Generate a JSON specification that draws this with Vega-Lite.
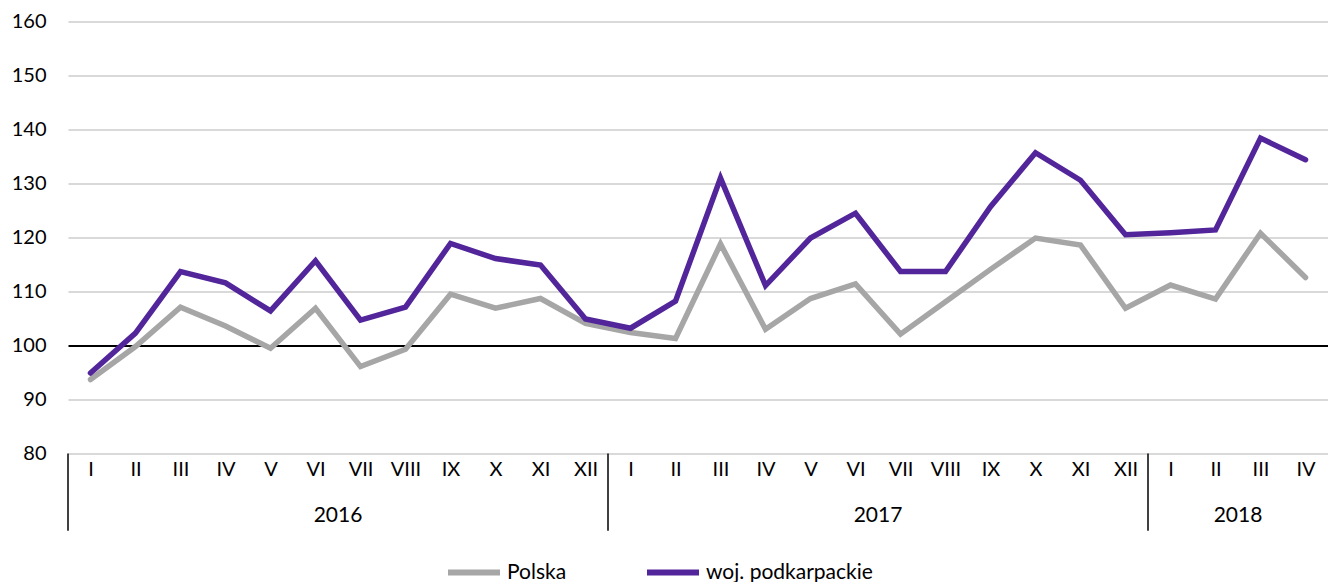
{
  "$schema": "https://vega.github.io/schema/vega-lite/v6.json",
  "width": 1260,
  "height": 432,
  "autosize": {"type": "none"},
  "padding": {"left": 68, "top": 21.5, "right": 0, "bottom": 128.5},
  "background": "white",
  "config": {
    "view": {"stroke": null},
    "font": "Lato",
    "text": {"font": "Lato"}
  },
  "data": {
    "values": [
      {"i": 0, "year": "2016", "m": "I", "series": "Polska", "value": 93.7},
      {"i": 1, "year": "2016", "m": "II", "series": "Polska", "value": 99.8},
      {"i": 2, "year": "2016", "m": "III", "series": "Polska", "value": 107.1},
      {"i": 3, "year": "2016", "m": "IV", "series": "Polska", "value": 103.6},
      {"i": 4, "year": "2016", "m": "V", "series": "Polska", "value": 99.5},
      {"i": 5, "year": "2016", "m": "VI", "series": "Polska", "value": 106.9},
      {"i": 6, "year": "2016", "m": "VII", "series": "Polska", "value": 96.1},
      {"i": 7, "year": "2016", "m": "VIII", "series": "Polska", "value": 99.3},
      {"i": 8, "year": "2016", "m": "IX", "series": "Polska", "value": 109.5},
      {"i": 9, "year": "2016", "m": "X", "series": "Polska", "value": 106.9},
      {"i": 10, "year": "2016", "m": "XI", "series": "Polska", "value": 108.7},
      {"i": 11, "year": "2016", "m": "XII", "series": "Polska", "value": 104.1},
      {"i": 12, "year": "2017", "m": "I", "series": "Polska", "value": 102.4},
      {"i": 13, "year": "2017", "m": "II", "series": "Polska", "value": 101.3},
      {"i": 14, "year": "2017", "m": "III", "series": "Polska", "value": 118.8},
      {"i": 15, "year": "2017", "m": "IV", "series": "Polska", "value": 103.0},
      {"i": 16, "year": "2017", "m": "V", "series": "Polska", "value": 108.7},
      {"i": 17, "year": "2017", "m": "VI", "series": "Polska", "value": 111.4},
      {"i": 18, "year": "2017", "m": "VII", "series": "Polska", "value": 102.1},
      {"i": 19, "year": "2017", "m": "VIII", "series": "Polska", "value": 108.1},
      {"i": 20, "year": "2017", "m": "IX", "series": "Polska", "value": 114.1},
      {"i": 21, "year": "2017", "m": "X", "series": "Polska", "value": 119.9},
      {"i": 22, "year": "2017", "m": "XI", "series": "Polska", "value": 118.6},
      {"i": 23, "year": "2017", "m": "XII", "series": "Polska", "value": 106.9},
      {"i": 24, "year": "2018", "m": "I", "series": "Polska", "value": 111.2},
      {"i": 25, "year": "2018", "m": "II", "series": "Polska", "value": 108.6},
      {"i": 26, "year": "2018", "m": "III", "series": "Polska", "value": 120.8},
      {"i": 27, "year": "2018", "m": "IV", "series": "Polska", "value": 112.6},
      {"i": 0, "year": "2016", "m": "I", "series": "woj. podkarpackie", "value": 94.9},
      {"i": 1, "year": "2016", "m": "II", "series": "woj. podkarpackie", "value": 102.3},
      {"i": 2, "year": "2016", "m": "III", "series": "woj. podkarpackie", "value": 113.7},
      {"i": 3, "year": "2016", "m": "IV", "series": "woj. podkarpackie", "value": 111.6},
      {"i": 4, "year": "2016", "m": "V", "series": "woj. podkarpackie", "value": 106.4},
      {"i": 5, "year": "2016", "m": "VI", "series": "woj. podkarpackie", "value": 115.7},
      {"i": 6, "year": "2016", "m": "VII", "series": "woj. podkarpackie", "value": 104.7},
      {"i": 7, "year": "2016", "m": "VIII", "series": "woj. podkarpackie", "value": 107.1},
      {"i": 8, "year": "2016", "m": "IX", "series": "woj. podkarpackie", "value": 118.9},
      {"i": 9, "year": "2016", "m": "X", "series": "woj. podkarpackie", "value": 116.1},
      {"i": 10, "year": "2016", "m": "XI", "series": "woj. podkarpackie", "value": 114.9},
      {"i": 11, "year": "2016", "m": "XII", "series": "woj. podkarpackie", "value": 104.9},
      {"i": 12, "year": "2017", "m": "I", "series": "woj. podkarpackie", "value": 103.2},
      {"i": 13, "year": "2017", "m": "II", "series": "woj. podkarpackie", "value": 108.2},
      {"i": 14, "year": "2017", "m": "III", "series": "woj. podkarpackie", "value": 131.0},
      {"i": 15, "year": "2017", "m": "IV", "series": "woj. podkarpackie", "value": 111.1},
      {"i": 16, "year": "2017", "m": "V", "series": "woj. podkarpackie", "value": 119.9},
      {"i": 17, "year": "2017", "m": "VI", "series": "woj. podkarpackie", "value": 124.5},
      {"i": 18, "year": "2017", "m": "VII", "series": "woj. podkarpackie", "value": 113.7},
      {"i": 19, "year": "2017", "m": "VIII", "series": "woj. podkarpackie", "value": 113.7},
      {"i": 20, "year": "2017", "m": "IX", "series": "woj. podkarpackie", "value": 125.7},
      {"i": 21, "year": "2017", "m": "X", "series": "woj. podkarpackie", "value": 135.7},
      {"i": 22, "year": "2017", "m": "XI", "series": "woj. podkarpackie", "value": 130.6},
      {"i": 23, "year": "2017", "m": "XII", "series": "woj. podkarpackie", "value": 120.5},
      {"i": 24, "year": "2018", "m": "I", "series": "woj. podkarpackie", "value": 120.9},
      {"i": 25, "year": "2018", "m": "II", "series": "woj. podkarpackie", "value": 121.4},
      {"i": 26, "year": "2018", "m": "III", "series": "woj. podkarpackie", "value": 138.4},
      {"i": 27, "year": "2018", "m": "IV", "series": "woj. podkarpackie", "value": 134.4}
    ]
  },
  "layer": [
    {
      "mark": {"type": "line", "strokeWidth": 5.5, "strokeCap": "round", "clip": false},
      "encoding": {
        "x": {
          "field": "i",
          "type": "quantitative",
          "scale": {"domain": [-0.5, 27.5], "nice": false, "zero": false},
          "axis": {
            "values": [0,1,2,3,4,5,6,7,8,9,10,11,12,13,14,15,16,17,18,19,20,21,22,23,24,25,26,27],
            "labelExpr": "['I','II','III','IV','V','VI','VII','VIII','IX','X','XI','XII'][datum.value % 12]",
            "domain": false,
            "ticks": false,
            "grid": false,
            "title": null,
            "labelFont": "Lato",
            "labelFontSize": 20,
            "labelColor": "#000000",
            "labelPadding": 6,
            "labelFlush": false,
            "labelOverlap": false
          }
        },
        "y": {
          "field": "value",
          "type": "quantitative",
          "scale": {"domain": [80, 160], "nice": false, "zero": false},
          "axis": {
            "values": [80, 90, 100, 110, 120, 130, 140, 150, 160],
            "domain": false,
            "ticks": false,
            "title": null,
            "labelFont": "Lato",
            "labelFontSize": 20,
            "labelColor": "#000000",
            "labelPadding": 22,
            "gridColor": {"condition": {"test": "datum.value === 100", "value": "#000000"}, "value": "#d9d9d9"},
            "gridWidth": 2
          }
        },
        "color": {
          "field": "series",
          "type": "nominal",
          "scale": {"domain": ["Polska", "woj. podkarpackie"], "range": ["#a6a6a6", "#52259a"]},
          "legend": {
            "orient": "none",
            "legendX": 377,
            "legendY": 522,
            "direction": "horizontal",
            "title": null,
            "symbolType": "stroke",
            "symbolSize": 2704,
            "symbolStrokeWidth": 6,
            "labelFont": "Lato",
            "labelFontSize": 21,
            "labelColor": "#000000",
            "labelOffset": 4,
            "labelLimit": 400,
            "columnPadding": 68
          }
        }
      }
    },
    {
      "transform": [
        {"aggregate": [{"op": "min", "field": "i", "as": "first"}], "groupby": ["year"]},
        {"calculate": "datum.first - 0.5", "as": "edge"}
      ],
      "mark": {"type": "rule", "color": "#000000", "strokeWidth": 1.5, "clip": false},
      "encoding": {
        "x": {"field": "edge", "type": "quantitative"},
        "y": {"datum": 80},
        "y2": {"datum": 65.7}
      }
    },
    {
      "transform": [
        {"aggregate": [{"op": "mean", "field": "i", "as": "mid"}], "groupby": ["year"]}
      ],
      "mark": {"type": "text", "fontSize": 21, "font": "Lato", "color": "#000000", "baseline": "middle", "clip": false},
      "encoding": {
        "x": {"field": "mid", "type": "quantitative"},
        "y": {"datum": 68.4},
        "text": {"field": "year"}
      }
    }
  ]
}
